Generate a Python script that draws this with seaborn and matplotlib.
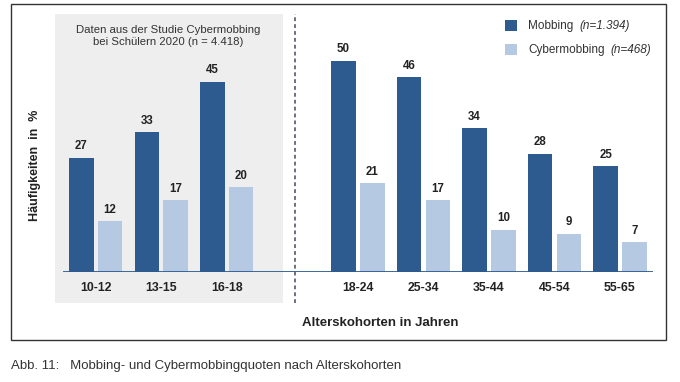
import matplotlib
matplotlib.use("Agg")
import matplotlib.pyplot as plt
import matplotlib.patches as mpatches
import seaborn as sns
import pandas as pd

categories = ["10-12", "13-15", "16-18", "18-24", "25-34", "35-44", "45-54", "55-65"]
mobbing = [27, 33, 45, 50, 46, 34, 28, 25]
cybermobbing = [12, 17, 20, 21, 17, 10, 9, 7]
series = ["Mobbing", "Cybermobbing"]
sample_sizes = ["(n=1.394)", "(n=468)"]
order = categories[:3] + [" "] + categories[3:]

df = pd.DataFrame({
    "Alter": categories * 2,
    "Serie": [series[0]] * len(categories) + [series[1]] * len(categories),
    "Wert": mobbing + cybermobbing,
})

sns.set_theme(style="white")
plt.rcParams["font.family"] = ["Liberation Sans", "DejaVu Sans"]

DARK = "#2e5b8f"
LIGHT = "#b5c9e3"

fig = plt.figure(figsize=(6.8, 3.82), dpi=100)
ax = fig.add_axes([63 / 680, 1 - 272 / 382, (652.75 - 63) / 680, 258 / 382])

sns.barplot(data=df, x="Alter", y="Wert", hue="Serie", order=order,
            hue_order=series, palette=[DARK, LIGHT], width=0.88, gap=0.15,
            saturation=1, ax=ax, legend=False, zorder=2, linewidth=0)

ax.set_xlim(-0.5, 8.5)
ax.set_ylim(0, 61)
for s in ax.spines.values():
    s.set_visible(False)
ax.set_yticks([])
ax.set_ylabel("")
ax.set_xlabel("")
ax.tick_params(axis="x", length=0, pad=7, labelsize=8.8, colors="#222222")
for lbl in ax.get_xticklabels():
    lbl.set_fontweight("bold")

ax.axhline(0, color=DARK, lw=2, zorder=3, xmin=0, xmax=1)

for cont in ax.containers:
    ax.bar_label(cont, fmt="%.0f", padding=4, fontsize=8.3, fontweight="bold", color="#222222")

# shaded region for school study
ax.add_patch(mpatches.Rectangle((-0.626, -7.3), 2.855 + 0.626, 61 + 7.3,
                                facecolor="#eeeeee", edgecolor="none",
                                clip_on=False, zorder=0))
ax.plot([3.04, 3.04], [-7.3, 61], color="#444a5a", lw=1.1, ls=(0, (2.5, 2)),
        clip_on=False, zorder=1)
ax.text(1.1, 58.5, "Daten aus der Studie Cybermobbing\nbei Schülern 2020 (n = 4.418)",
        ha="center", va="top", fontsize=8.2, color="#333333", linespacing=1.3)

handles = [mpatches.Patch(facecolor=c, edgecolor="none") for c in (DARK, LIGHT)]
leg = fig.legend(handles, series, loc="upper left",
                 bbox_to_anchor=(494 / 680, 1 - 9 / 382), frameon=False,
                 fontsize=8.5, handlelength=1.05, handleheight=1.05,
                 handletextpad=0.95, labelspacing=1.0)
for t, n in zip(leg.get_texts(), sample_sizes):
    t.set_color("#333333")
    fig.canvas.draw()
    ax.annotate(n, xy=(1, 0.5), xycoords=t, xytext=(4, 0), textcoords="offset points",
                ha="left", va="center", fontsize=8.5, style="italic", color="#333333",
                annotation_clip=False)

fig.text(35 / 680, 1 - 165 / 382, "Häufigkeiten  in  %", rotation=90,
         ha="center", va="center", fontsize=9, fontweight="bold", color="#222222")
fig.text(380 / 680, 1 - 323 / 382, "Alterskohorten in Jahren", ha="center",
         va="center", fontsize=9.5, fontweight="bold", color="#222222")

fig.patches.append(mpatches.Rectangle((11 / 680, 1 - 340 / 382), 655 / 680, 336 / 382,
                                      transform=fig.transFigure, fill=False,
                                      edgecolor="#333333", lw=1.0))
fig.text(11 / 680, 1 - 366 / 382, "Abb. 11:   Mobbing- und Cybermobbingquoten nach Alterskohorten",
         ha="left", va="center", fontsize=9.5, color="#333333")

fig.savefig("out.png", dpi=100, facecolor="white")
